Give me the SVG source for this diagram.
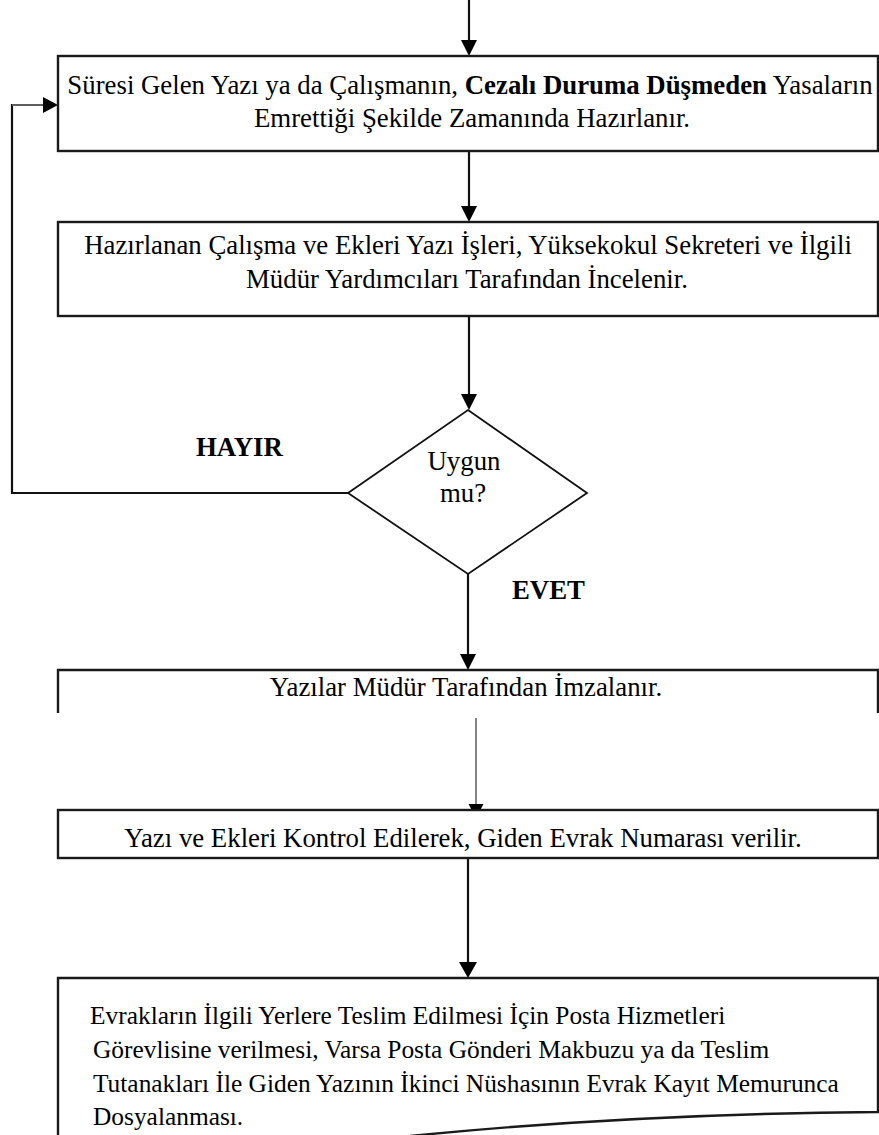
<svg xmlns="http://www.w3.org/2000/svg" width="879" height="1135" viewBox="0 0 879 1135">
<style>
.bx{fill:#fff;stroke:#1a1a1a;stroke-width:2.4}
.open{fill:none;stroke:#1a1a1a;stroke-width:2.4}
.dm{fill:#fff;stroke:#111;stroke-width:1.8}
.ln{fill:none;stroke:#111;stroke-width:2.2}
.thin{fill:none;stroke:#333;stroke-width:1.2}
.ah{fill:#000;stroke:none}
.t{font-family:"Liberation Serif","Times New Roman",serif;font-size:26.8px;fill:#000}
.t6{font-family:"Liberation Serif","Times New Roman",serif;font-size:25.4px;fill:#000}
.c{text-anchor:middle}
.b{font-weight:bold}
</style>
<rect width="879" height="1135" fill="#fff"/>
<g id="connectors">
  <line class="ln" x1="469" y1="0" x2="469" y2="42"/>
  <polygon class="ah" points="461,40 477,40 469,56"/>
  <line class="ln" x1="469" y1="151" x2="469" y2="208"/>
  <polygon class="ah" points="461,206 477,206 469,222"/>
  <line class="ln" x1="469" y1="316" x2="469" y2="396"/>
  <polygon class="ah" points="461,394 477,394 469,410"/>
  <polyline class="ln" points="348,493 12,493 12,105 44,105" stroke-width="3"/>
  <line x1="12" y1="105" x2="44" y2="105" stroke="#bbb" stroke-width="0.9"/>
  <polygon class="ah" points="43,97 43,113 58,105"/>
  <line class="ln" x1="468" y1="574" x2="468" y2="656"/>
  <polygon class="ah" points="460,654 476,654 468,670"/>
  <line class="thin" x1="476" y1="718" x2="476" y2="806"/>
  <polygon class="ah" points="468.5,804 483.5,804 476,818"/>
  <line class="ln" x1="468" y1="858" x2="468" y2="964" stroke-width="1.6"/>
  <polygon class="ah" points="459,962 477,962 468,978"/>
</g>
<g id="node1">
  <rect class="bx" x="58" y="56" width="820" height="95"/>
  <text class="t c" x="470" y="94">Süresi Gelen Yazı ya da Çalışmanın, <tspan class="b">Cezalı Duruma Düşmeden</tspan> Yasaların</text>
  <text class="t c" x="472" y="127">Emrettiği Şekilde Zamanında Hazırlanır.</text>
</g>
<g id="node2">
  <rect class="bx" x="58" y="222" width="820" height="94"/>
  <text class="t c" x="468" y="254">Hazırlanan Çalışma ve Ekleri Yazı İşleri, Yüksekokul Sekreteri ve İlgili</text>
  <text class="t c" x="467" y="288">Müdür Yardımcıları Tarafından İncelenir.</text>
</g>
<g id="decision">
  <polygon class="dm" points="468,410 587,493 468,574 348,493"/>
  <text class="t c" x="464" y="470">Uygun</text>
  <text class="t c" x="463" y="502">mu?</text>
</g>
<g id="label-hayir">
  <text class="t b" x="196" y="456">HAYIR</text>
</g>
<g id="label-evet">
  <text class="t b" x="512" y="599">EVET</text>
</g>
<g id="node4">
  <polyline class="open" points="58,713 58,670 878,670 878,713"/>
  <text class="t c" x="466" y="696">Yazılar Müdür Tarafından İmzalanır.</text>
</g>
<g id="node5">
  <rect class="bx" x="58" y="810" width="820" height="48"/>
  <text class="t c" x="463" y="847">Yazı ve Ekleri Kontrol Edilerek, Giden Evrak Numarası verilir.</text>
</g>
<g id="node6">
  <path class="open" d="M58,1136 L58,978 L878,978 L878,1112 C740,1113 580,1119 410,1136"/>
  <text class="t6" x="90" y="1024">Evrakların İlgili Yerlere Teslim Edilmesi İçin Posta Hizmetleri</text>
  <text class="t6" x="93" y="1058">Görevlisine verilmesi, Varsa Posta Gönderi Makbuzu ya da Teslim</text>
  <text class="t6" x="93" y="1092">Tutanakları İle Giden Yazının İkinci Nüshasının Evrak Kayıt Memurunca</text>
  <text class="t6" x="93" y="1125">Dosyalanması.</text>
</g>
</svg>
